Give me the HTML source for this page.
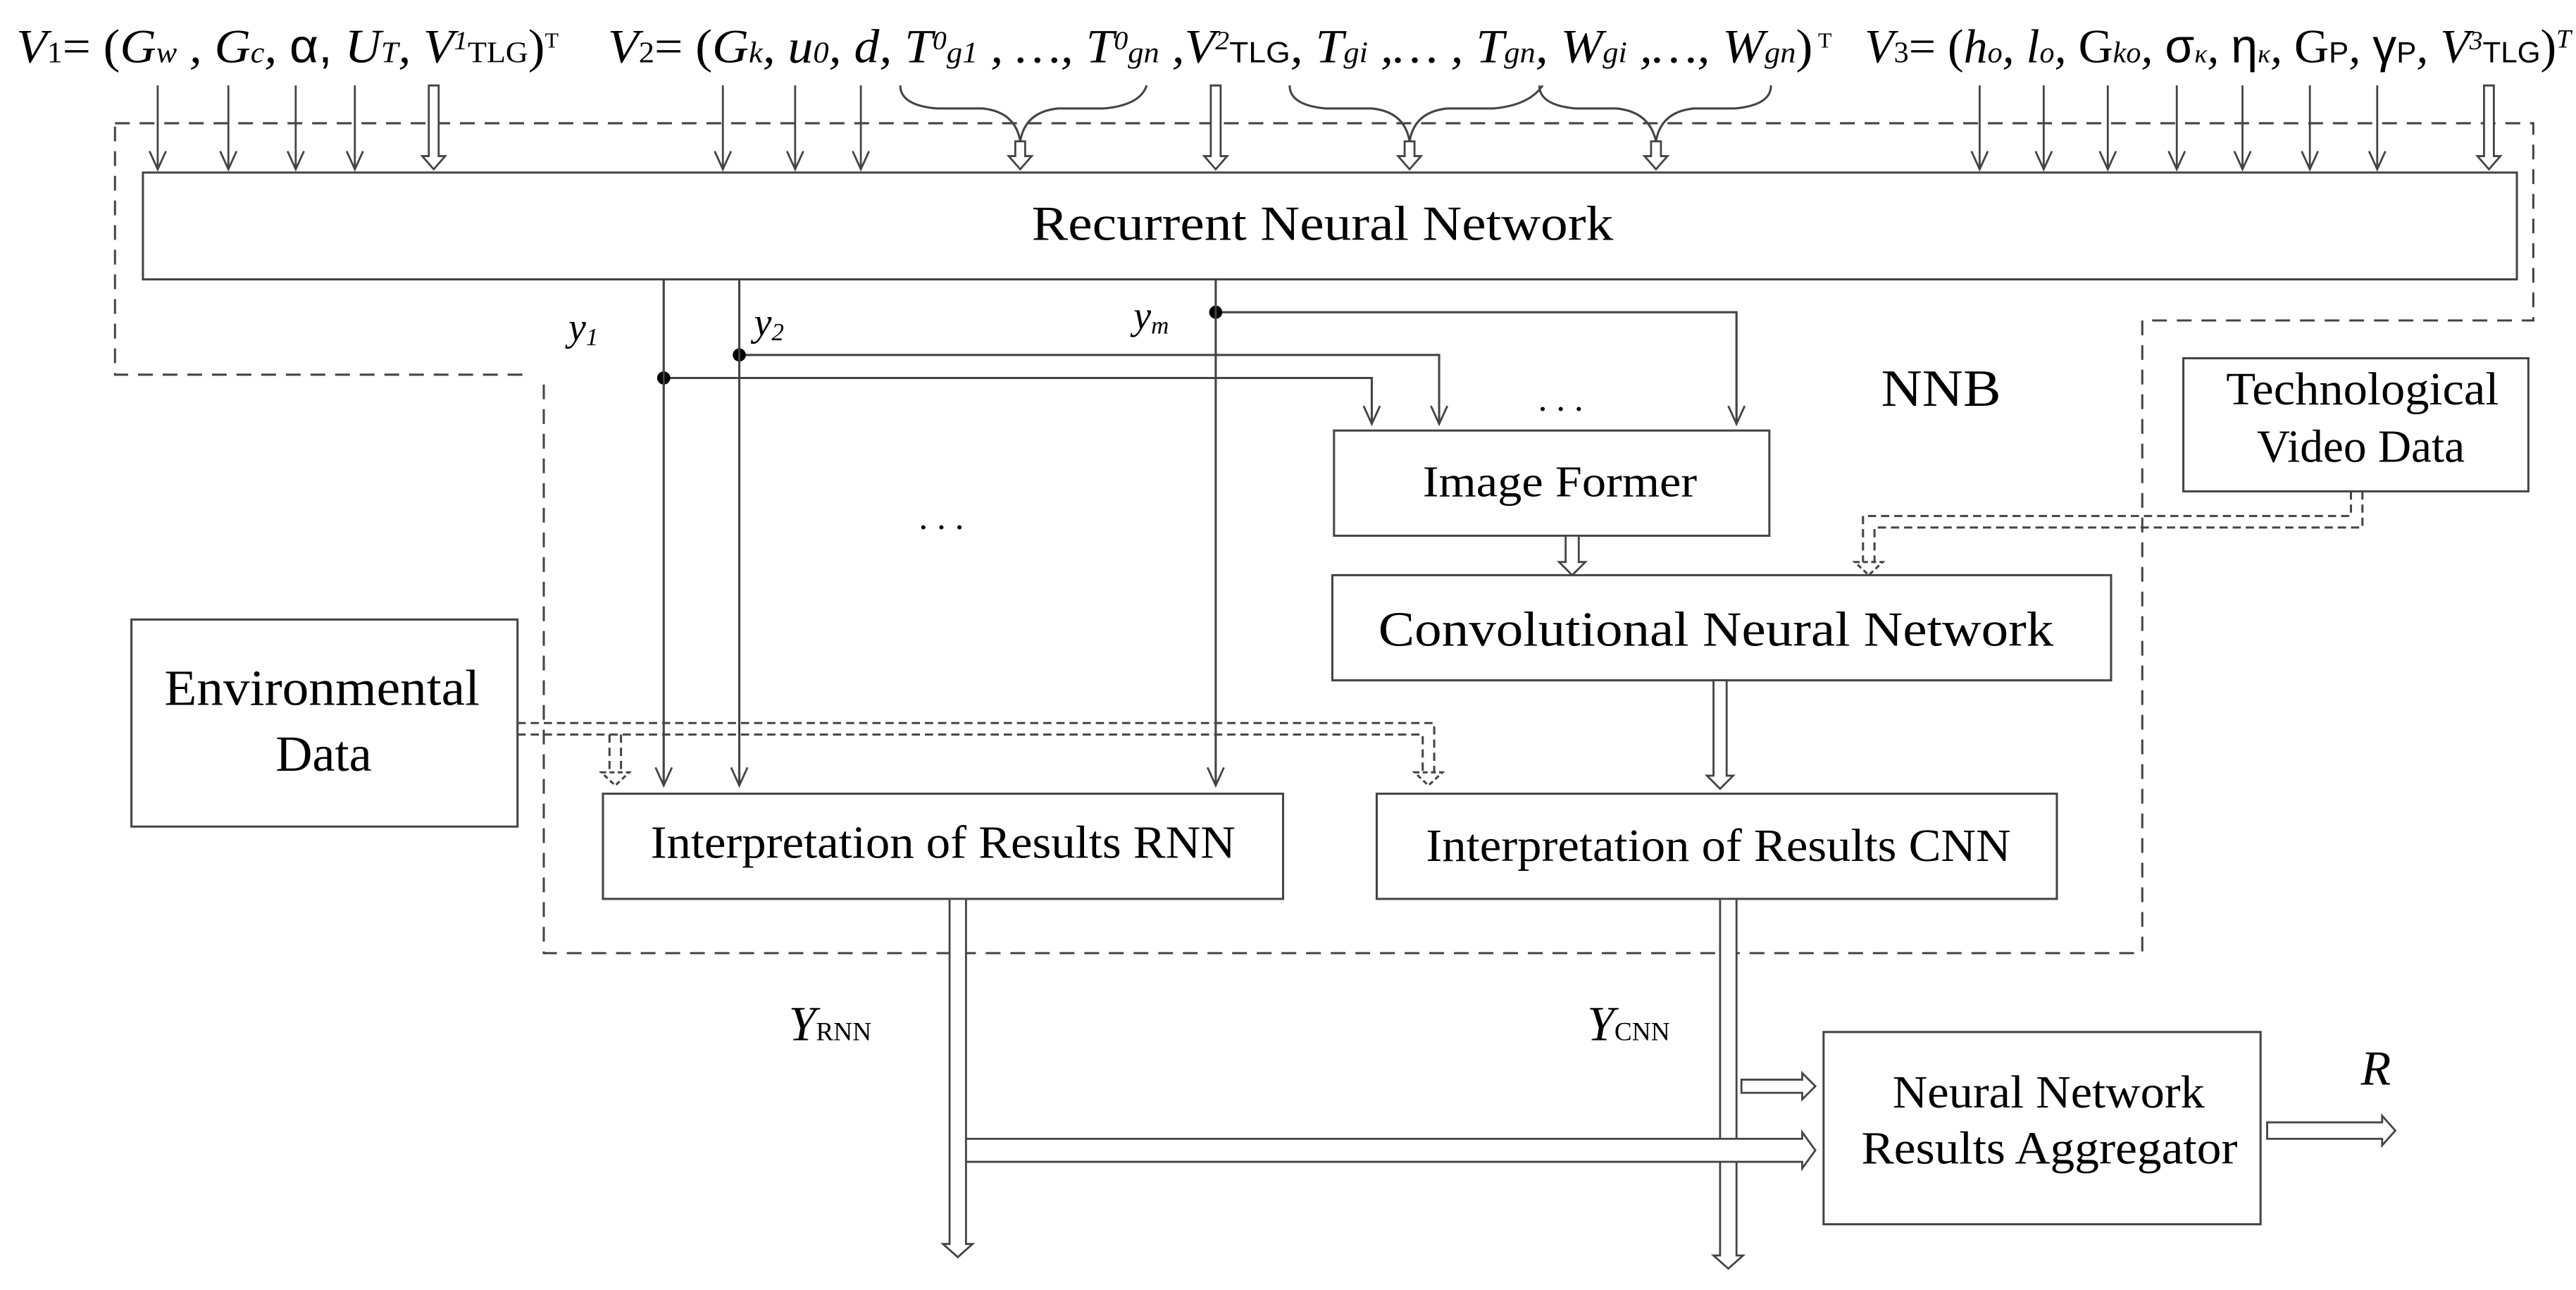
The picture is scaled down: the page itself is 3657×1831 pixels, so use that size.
<!DOCTYPE html>
<html><head><meta charset="utf-8"><style>
html,body{margin:0;padding:0;background:#fff}
svg{display:block}
text{font-family:"Liberation Serif",serif;fill:#000}
.i{font-style:italic}
</style></head><body>
<svg id="s" width="3657" height="1831" viewBox="0 0 1568 785" preserveAspectRatio="none" xmlns="http://www.w3.org/2000/svg">
<g fill="none" stroke="#444" stroke-width="1.3">
<path stroke-dasharray="9,6" d="M70,75 H1542 V195 H1304 V580 H331 V228 M318,228 H70 V75"/>
<rect x="87" y="105" width="1445" height="65"/>
<rect x="812" y="262" width="265" height="64"/>
<rect x="811" y="350" width="474" height="64"/>
<rect x="367" y="483" width="414" height="64"/>
<rect x="838" y="483" width="414" height="64"/>
<rect x="80" y="377" width="235" height="126"/>
<rect x="1329" y="218" width="210" height="81"/>
<rect x="1110" y="628" width="266" height="117"/>
<path d="M404,170 V478 M450,170 V478 M740,170 V478"/>
<path d="M404,230 H835 V258 M450,216 H876 V258 M740,190 H1057 V258"/>
<path d="M548,52 q0,12 22,14 h28 q20,2 23,20 q3,-18 23,-20 h28 q22,-2 26,-14"/>
<path d="M785,52 q0,12 22,14 h28 q20,2 23,20 q3,-18 23,-20 h28 q22,-2 30,-14"/>
<path d="M937,52 q0,12 22,14 h25 q20,2 24,20 q3,-18 23,-20 h25 q22,-2 22,-14"/>
<path stroke-dasharray="5,3" d="M315,440 H873 V470 M315,447 H866 V470 M378,447 V470 M371,447 V470"/>
<path stroke-dasharray="3,2" d="M366,470 H383 L374.5,478 Z M861,470 H878 L869.5,478 Z"/>
<path stroke-dasharray="5,3" d="M1438,299 V321 H1141 V342 M1431,299 V314 H1134 V342"/>
<path stroke-dasharray="3,2" d="M1129,342 H1146 L1137.5,350 Z"/>
</g>
<g fill="#000" stroke="none">
<circle cx="404" cy="230" r="4"/><circle cx="450" cy="216" r="4"/><circle cx="740" cy="190" r="4"/>
</g>
<g id="arr" fill="#fff" stroke="#444" stroke-width="1.2"></g>
<text x="628" y="146" font-size="30" textLength="354" lengthAdjust="spacingAndGlyphs">Recurrent Neural Network</text>
<text x="866" y="302" font-size="27" textLength="167" lengthAdjust="spacingAndGlyphs">Image Former</text>
<text x="839" y="393" font-size="30" textLength="411" lengthAdjust="spacingAndGlyphs">Convolutional Neural Network</text>
<text x="396" y="522" font-size="28" textLength="356" lengthAdjust="spacingAndGlyphs">Interpretation of Results RNN</text>
<text x="868" y="524" font-size="28" textLength="356" lengthAdjust="spacingAndGlyphs">Interpretation of Results CNN</text>
<text x="100" y="429" font-size="31" textLength="192" lengthAdjust="spacingAndGlyphs">Environmental</text>
<text x="197" y="469" font-size="31" text-anchor="middle">Data</text>
<text x="1355" y="246" font-size="28" textLength="166" lengthAdjust="spacingAndGlyphs">Technological</text>
<text x="1437" y="281" font-size="28" text-anchor="middle">Video Data</text>
<text x="1152" y="674" font-size="28" textLength="190" lengthAdjust="spacingAndGlyphs">Neural Network</text>
<text x="1133" y="708" font-size="28" textLength="229" lengthAdjust="spacingAndGlyphs">Results Aggregator</text>
<text x="1145" y="247" font-size="32" textLength="73" lengthAdjust="spacingAndGlyphs">NNB</text>
<text x="950" y="250" font-size="22" text-anchor="middle">. . .</text>
<text x="573" y="322" font-size="22" text-anchor="middle">. . .</text>
<text x="346" y="207" font-size="24" class="i">y<tspan font-size="15" dy="3">1</tspan></text>
<text x="459" y="204" font-size="24" class="i">y<tspan font-size="15" dy="3">2</tspan></text>
<text x="690" y="200" font-size="24" class="i">y<tspan font-size="15" dy="3">m</tspan></text>
<text x="480" y="633" font-size="30" class="i">Y<tspan font-size="16" font-style="normal">RNN</tspan></text>
<text x="966" y="633" font-size="30" class="i">Y<tspan font-size="16" font-style="normal">CNN</tspan></text>
<text x="1437" y="660" font-size="30" class="i">R</text>
<text x="10" y="38" font-size="29" class="i" textLength="330" lengthAdjust="spacingAndGlyphs">V<tspan font-size="18" font-style="normal">1</tspan><tspan font-style="normal">= (</tspan>G<tspan font-size="18">w</tspan> , G<tspan font-size="18">c</tspan>, <tspan font-style="normal" font-family="Liberation Sans">α,</tspan> U<tspan font-size="18">T</tspan>, V<tspan font-size="16" dy="-8">1</tspan><tspan font-size="18" dy="8" font-style="normal">TLG</tspan><tspan font-style="normal">)</tspan><tspan font-size="13" dy="-9" font-style="normal">T</tspan></text>
<text x="370" y="38" font-size="29" class="i" textLength="745" lengthAdjust="spacingAndGlyphs">V<tspan font-size="18" font-style="normal">2</tspan><tspan font-style="normal">= (</tspan>G<tspan font-size="18">k</tspan>, u<tspan font-size="18">0</tspan>, d, T<tspan font-size="16" dy="-8">0</tspan><tspan font-size="18" dy="8">g1</tspan> , …, T<tspan font-size="16" dy="-8">0</tspan><tspan font-size="18" dy="8">gn</tspan> ,V<tspan font-size="16" dy="-8">2</tspan><tspan font-size="18" dy="8" font-style="normal" font-family="Liberation Sans">TLG</tspan>, T<tspan font-size="18">gi</tspan> ,… , T<tspan font-size="18">gn</tspan>, W<tspan font-size="18">gi</tspan> ,…, W<tspan font-size="18">gn</tspan><tspan font-style="normal">)</tspan><tspan font-size="13" dy="-9" font-style="normal"> T</tspan></text>
<text x="1135" y="38" font-size="29" class="i" textLength="430" lengthAdjust="spacingAndGlyphs">V<tspan font-size="18" font-style="normal">3</tspan><tspan font-style="normal">= (</tspan>h<tspan font-size="18">o</tspan>, l<tspan font-size="18">o</tspan>, <tspan font-style="normal">G</tspan><tspan font-size="18">ko</tspan>, <tspan font-style="normal" font-family="Liberation Sans">σ</tspan><tspan font-size="16">κ</tspan>, <tspan font-style="normal" font-family="Liberation Sans">η</tspan><tspan font-size="16">κ</tspan>, <tspan font-style="normal">G</tspan><tspan font-size="18" font-style="normal" font-family="Liberation Sans">P</tspan>, <tspan font-style="normal" font-family="Liberation Sans">γ</tspan><tspan font-size="18" font-style="normal" font-family="Liberation Sans">P</tspan>, V<tspan font-size="16" dy="-8">3</tspan><tspan font-size="18" dy="8" font-style="normal" font-family="Liberation Sans">TLG</tspan><tspan font-style="normal">)</tspan><tspan font-size="16" dy="-9">T</tspan></text>
</svg>
<script>
var g=document.getElementById('arr'),ns='http://www.w3.org/2000/svg';
function add(tag,a){var e=document.createElementNS(ns,tag);for(var k in a)e.setAttribute(k,a[k]);g.appendChild(e);}
function thin(x,y1,y2){add('path',{d:'M'+x+','+y1+'V'+y2+'M'+(x-5)+','+(y2-11)+'L'+x+','+y2+'L'+(x+5)+','+(y2-11),fill:'none'});}
function hv(x,y1,y2,w,h){w=w||3;h=h||8;add('polygon',{points:[x-w,y1,x+w,y1,x+w,y2-h,x+w+4,y2-h,x,y2,x-w-4,y2-h,x-w,y2-h].join(',')});}
function hh(y,x1,x2,w,h){w=w||4;h=h||8;add('polygon',{points:[x1,y-w,x2-h,y-w,x2-h,y-w-4,x2,y,x2-h,y+w+4,x2-h,y+w,x1,y+w].join(',')});}
[96,139,180,216,440,484,524,1205,1244,1283,1325,1365,1406,1447].forEach(function(x){thin(x,52,103);});
thin(404,170,478);thin(450,170,478);thin(740,170,478);
thin(835,230,258);thin(876,216,258);thin(1057,190,258);
hv(264,52,103);hv(621,86,103);hv(740,52,103);hv(858,86,103);hv(1008,86,103);hv(1515,52,103);
hv(957,326,350,4);hv(1047,414,480,4);
hv(583,547,765,5);hv(1052,547,772,5);
hh(661,1060,1105,4);hh(700,588,1105,7);hh(688,1380,1458,5);
</script>
</body></html>
